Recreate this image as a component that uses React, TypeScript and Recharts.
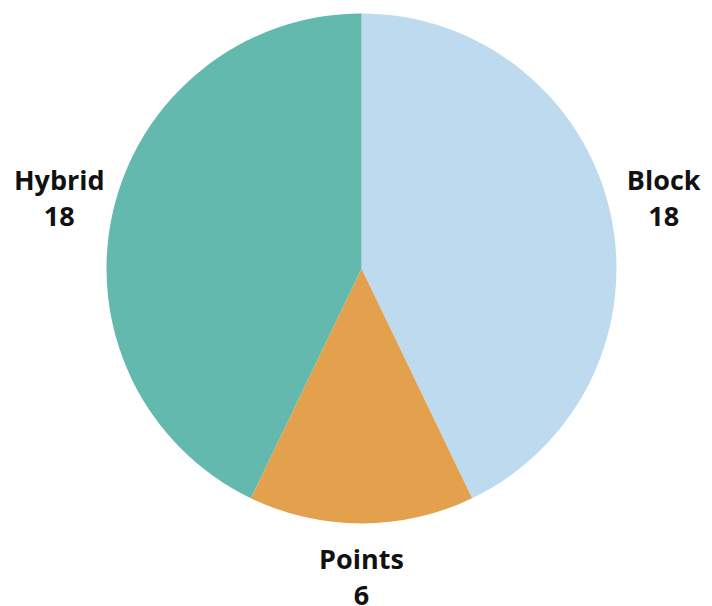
import { PieChart, Pie, Cell } from 'recharts';

const categories = ['Block', 'Points', 'Hybrid'];
const counts = [18, 6, 18];
const colors = ['#bddaee', '#e3a14e', '#63b9ae'];

const data = categories.map((name, i) => ({ name, value: counts[i] }));

const RADIAN = Math.PI / 180;

type LabelProps = {
  cx: number;
  cy: number;
  midAngle: number;
  outerRadius: number;
  name: string;
  value: number;
};

function renderLabel({ cx, cy, midAngle, outerRadius, name, value }: LabelProps) {
  const r = outerRadius + 55;
  const x = cx + r * Math.cos(-midAngle * RADIAN);
  const y = cy + r * Math.sin(-midAngle * RADIAN) - 2.5;
  return (
    <text
      x={x}
      y={y}
      textAnchor="middle"
      dominantBaseline="central"
      fill="#111"
      style={{ fontFamily: '"Open Sans", sans-serif', fontWeight: 700, fontSize: 27 }}
    >
      <tspan x={x} y={y - 18}>{name}</tspan>
      <tspan x={x} y={y + 18}>{value}</tspan>
    </text>
  );
}

export default function App() {
  return (
    <div style={{ position: 'absolute', left: 0, top: 0, background: '#fff' }}>
      <PieChart width={712} height={606}>
        <Pie
          data={data}
          dataKey="value"
          nameKey="name"
          cx={356.5}
          cy={263.5}
          outerRadius={255}
          startAngle={90}
          endAngle={-270}
          stroke="none"
          label={renderLabel}
          labelLine={false}
          isAnimationActive={false}
        >
          {data.map((d, i) => (
            <Cell key={d.name} fill={colors[i]} />
          ))}
        </Pie>
      </PieChart>
    </div>
  );
}
